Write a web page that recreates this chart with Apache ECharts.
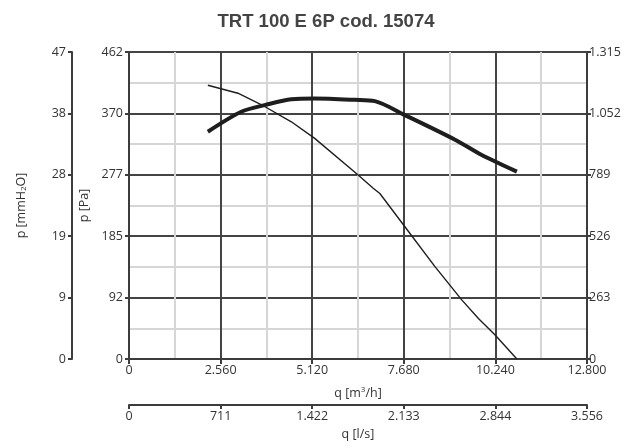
<!DOCTYPE html>
<html><head><meta charset="utf-8">
<script src="https://cdn.jsdelivr.net/npm/echarts@6/dist/echarts.min.js"></script>
<style>html,body{margin:0;padding:0;background:#fff}#c{width:627px;height:448px}</style>
</head><body><div id="c"></div>
<script>
// Flow in m3/h, pressure in Pa
const pressureCurve = [[2204,342],[3137,372],[3790,382],[4537,391],[5190,392],[6311,390],[6871,388],[7711,367],[9112,330],[9859,307],[10840,282]];
const powerCurve = [[2204,412],[3044,400],[3790,380],[4537,357],[5190,332],[6404,277],[6825,257],[7011,249],[7711,199],[8551,139],[9299,89],[9766,61],[10232,36],[10840,0]];
const xTicksM3h = ['0','2.560','5.120','7.680','10.240','12.800'];
const xTicksLs = ['0','711','1.422','2.133','2.844','3.556'];
const yTicksPa = ['0','92','185','277','370','462'];
const yTicksMm = ['0','9','19','28','38','47'];
const yTicksRight = ['0','263','526','789','1.052','1.315'];

const txt = '#333';
const axisCol = '#3c3c3c';
const font = 'Open Sans';
const fs = 12.5;
const chart = echarts.init(document.getElementById('c'), null, {renderer:'canvas'});
function idx(v, step){ return Math.round(v/step); }
chart.setOption({
  animation:false,
  backgroundColor:'#fff',
  title:{text:'TRT 100 E 6P cod. 15074', left:321, top:7, textAlign:'center',
    textStyle:{fontFamily:'Liberation Sans', fontWeight:'bold', fontSize:18.5, color:'#444'}},
  grid:{left:129, right:40, top:52, bottom:89, containLabel:false, outerBoundsMode:'none'},
  xAxis:[{
    type:'value', min:0, max:12800, interval:2560, position:'bottom',
    name:'q [m{sup|3}/h]', nameLocation:'middle', nameGap:27,
    nameTextStyle:{fontFamily:font, fontSize:fs, color:txt, rich:{sup:{fontSize:8, verticalAlign:'top', padding:[0,0,6,0], fontFamily:font, color:txt}}},
    axisLine:{show:true, onZero:false, lineStyle:{color:axisCol, width:2}},
    axisTick:{show:true, length:5, lineStyle:{color:axisCol, width:2}},
    axisLabel:{fontFamily:font, fontSize:fs, color:txt, margin:5, formatter:v=>xTicksM3h[idx(v,2560)]},
    splitLine:{show:true, lineStyle:{color:'#444', width:2}},
    minorTick:{show:false, splitNumber:2},
    minorSplitLine:{show:true, lineStyle:{color:'#d6d6d6', width:2}}
  },{
    type:'value', min:0, max:3556, interval:711.2, position:'bottom', offset:46,
    name:'q [l/s]', nameLocation:'middle', nameGap:23,
    nameTextStyle:{fontFamily:font, fontSize:fs, color:txt},
    axisLine:{show:true, onZero:false, lineStyle:{color:axisCol, width:2}},
    axisTick:{show:true, length:4, lineStyle:{color:axisCol, width:2}},
    axisLabel:{fontFamily:font, fontSize:fs, color:txt, margin:5, formatter:v=>xTicksLs[idx(v,711.2)]},
    splitLine:{show:false}
  }],
  yAxis:[{
    type:'value', min:0, max:462, interval:92.4, position:'left',
    name:'p [Pa]', nameLocation:'middle', nameGap:36,
    nameTextStyle:{fontFamily:font, fontSize:fs, color:txt},
    axisLine:{show:true, onZero:false, lineStyle:{color:axisCol, width:2}},
    axisTick:{show:true, length:4, lineStyle:{color:axisCol, width:2}},
    axisLabel:{fontFamily:font, fontSize:fs, color:txt, margin:6, formatter:v=>yTicksPa[idx(v,92.4)]},
    splitLine:{show:true, lineStyle:{color:'#444', width:2}},
    minorTick:{show:false, splitNumber:2},
    minorSplitLine:{show:true, lineStyle:{color:'#d6d6d6', width:2}}
  },{
    type:'value', min:0, max:47, interval:9.4, position:'left', offset:57,
    name:'p [mmH{sub|2}O]', nameLocation:'middle', nameGap:44,
    nameTextStyle:{fontFamily:font, fontSize:fs, color:txt, rich:{sub:{fontSize:8, verticalAlign:'bottom', padding:[6,0,0,0], fontFamily:font, color:txt}}},
    axisLine:{show:true, onZero:false, lineStyle:{color:axisCol, width:2}},
    axisTick:{show:true, length:4, lineStyle:{color:axisCol, width:2}},
    axisLabel:{fontFamily:font, fontSize:fs, color:txt, margin:6, formatter:v=>yTicksMm[idx(v,9.4)]},
    splitLine:{show:false}
  },{
    type:'value', min:0, max:1315, interval:263, position:'right',
    axisLine:{show:true, onZero:false, lineStyle:{color:axisCol, width:2}},
    axisTick:{show:true, length:4, lineStyle:{color:axisCol, width:2}},
    axisLabel:{fontFamily:font, fontSize:fs, color:txt, margin:2, formatter:v=>yTicksRight[idx(v,263)]},
    splitLine:{show:false}
  }],
  series:[{
    type:'line', xAxisIndex:0, yAxisIndex:0, data:pressureCurve, showSymbol:false, symbol:'none',
    smooth:0.3, lineStyle:{color:'#1e1e1e', width:4, join:'round'}, z:5
  },{
    type:'line', xAxisIndex:0, yAxisIndex:0, data:powerCurve, showSymbol:false, symbol:'none',
    smooth:false, lineStyle:{color:'#1e1e1e', width:1.4}, z:5
  }]
});
</script></body></html>
